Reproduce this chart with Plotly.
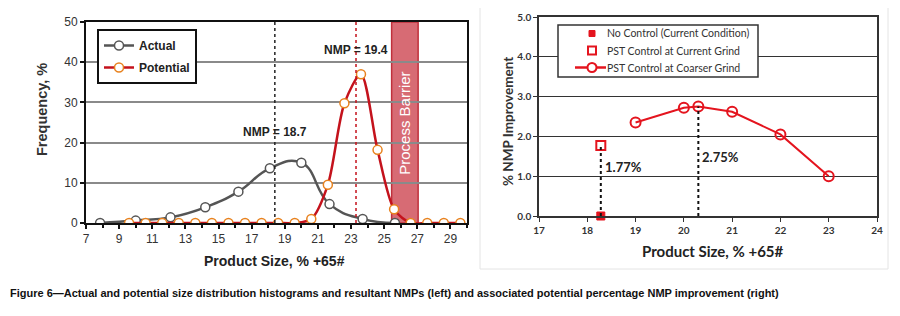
import plotly.graph_objects as go

# ---- Left chart data ----
actual_x = [7.85, 10.0, 12.1, 14.2, 16.2, 18.1, 20.0, 21.7, 23.7, 25.65]
actual_y = [0.0, 0.6, 1.4, 3.9, 7.8, 13.6, 15.0, 4.7, 1.0, 0.0]

potential_x = [9.6, 10.6, 11.6, 12.6, 13.6, 14.6, 15.6, 16.6, 17.6, 18.6, 19.6,
               20.6, 21.6, 22.6, 23.6, 24.6, 25.6, 26.6, 27.6, 28.6, 29.6]
potential_y = [0, 0, 0, 0, 0, 0, 0, 0, 0, 0, 0,
               1.0, 9.5, 29.8, 37.0, 18.2, 3.4, 0, 0, 0, 0]

nmp_actual_x = 18.4
nmp_potential_x = 23.3
barrier_x = [25.45, 27.05]
left_xticks = list(range(7, 30, 2))

# ---- Right chart data ----
no_control_x = [18.28]
no_control_y = [0.0]
current_grind_x = [18.28]
current_grind_y = [1.77]
coarser_x = [19.0, 20.0, 20.3, 21.0, 22.0, 23.0]
coarser_y = [2.35, 2.72, 2.75, 2.62, 2.05, 1.0]
right_legend_labels = ["No Control (Current Condition)",
                       "PST Control at Current Grind",
                       "PST Control at Coarser Grind"]

W, H = 900, 316
OFF = 8  # default page body margin of the html page

def px(x):
    return (x - OFF) / W

def py(y):
    return (H - (y - OFF)) / H

RED = "#C4121C"
ORANGE = "#E8821E"
GRAY = "#555555"
BRIGHT_RED = "#E4141E"
ARIAL = "Liberation Sans, Arial, sans-serif"
CAL = "Lato, Carlito, Calibri, sans-serif"

fig = go.Figure()

fig.add_trace(go.Scatter(
    x=actual_x, y=actual_y, name="Actual", mode="lines+markers",
    line=dict(color=GRAY, width=2.5, shape="spline", smoothing=1.3),
    marker=dict(symbol="circle", size=9, color="white", line=dict(color=GRAY, width=1.5)),
    xaxis="x", yaxis="y", legend="legend", legendgroup="a"))

fig.add_trace(go.Scatter(
    x=potential_x, y=potential_y, name="Potential", mode="lines+markers",
    line=dict(color=RED, width=2.5, shape="spline", smoothing=0.8),
    marker=dict(symbol="circle", size=9, color="white", line=dict(color=ORANGE, width=1.5)),
    xaxis="x", yaxis="y", legend="legend", legendgroup="p"))

fig.add_trace(go.Scatter(
    x=no_control_x, y=no_control_y, name=right_legend_labels[0], mode="markers",
    marker=dict(symbol="square", size=8, color=BRIGHT_RED, line=dict(color=BRIGHT_RED, width=1)),
    xaxis="x2", yaxis="y2", showlegend=False, cliponaxis=False))

fig.add_trace(go.Scatter(
    x=current_grind_x, y=current_grind_y, name=right_legend_labels[1], mode="markers",
    marker=dict(symbol="square", size=9, color="white", line=dict(color=BRIGHT_RED, width=2)),
    xaxis="x2", yaxis="y2", showlegend=False))

fig.add_trace(go.Scatter(
    x=coarser_x, y=coarser_y, name=right_legend_labels[2], mode="lines+markers",
    line=dict(color=BRIGHT_RED, width=2),
    marker=dict(symbol="circle-open", size=10, color=BRIGHT_RED, line=dict(color=BRIGHT_RED, width=2)),
    xaxis="x2", yaxis="y2", showlegend=False))

shapes = [
    dict(type="rect", xref="x", yref="y", x0=barrier_x[0], x1=barrier_x[1], y0=0, y1=50,
         fillcolor="rgba(200,50,62,0.72)", line=dict(color="#C0303C", width=1.5), layer="below"),
    dict(type="line", xref="x", yref="y", x0=nmp_actual_x, x1=nmp_actual_x, y0=0, y1=50,
         line=dict(color="#222222", width=1.5, dash="dot")),
    dict(type="line", xref="x", yref="y", x0=nmp_potential_x, x1=nmp_potential_x, y0=0, y1=50,
         line=dict(color=RED, width=1.5, dash="dot")),
    dict(type="line", xref="x2", yref="y2", x0=current_grind_x[0], x1=current_grind_x[0],
         y0=0, y1=current_grind_y[0], line=dict(color="#111111", width=2, dash="dot")),
    dict(type="line", xref="x2", yref="y2", x0=coarser_x[2], x1=coarser_x[2],
         y0=0, y1=coarser_y[2], line=dict(color="#111111", width=2, dash="dot")),
    # right panel card border
    dict(type="rect", xref="paper", yref="paper", x0=px(480), x1=px(888), y0=py(269), y1=1.2,
         line=dict(color="#E4E4E4", width=1), fillcolor="rgba(0,0,0,0)", layer="below"),
    # right legend box (custom, compact rows)
    dict(type="rect", xref="paper", yref="paper", x0=px(558), x1=px(758), y0=py(77), y1=py(25),
         line=dict(color="#333333", width=1.5), fillcolor="white", layer="above"),
    dict(type="rect", xref="paper", yref="paper", x0=px(589), x1=px(595), y0=py(36.5), y1=py(30.5),
         line=dict(color=BRIGHT_RED, width=1), fillcolor=BRIGHT_RED, layer="above"),
    dict(type="rect", xref="paper", yref="paper", x0=px(588), x1=px(596), y0=py(54.5), y1=py(46.5),
         line=dict(color=BRIGHT_RED, width=2), fillcolor="white", layer="above"),
    dict(type="line", xref="paper", yref="paper", x0=px(575), x1=px(606), y0=py(67.5), y1=py(67.5),
         line=dict(color=BRIGHT_RED, width=2.5), layer="above"),
    dict(type="circle", xref="paper", yref="paper", x0=px(587.5), x1=px(596.5), y0=py(72), y1=py(63),
         line=dict(color=BRIGHT_RED, width=2), fillcolor="white", layer="above"),
]

def ann(**kw):
    kw.setdefault("showarrow", False)
    kw.setdefault("xanchor", "center")
    kw.setdefault("yanchor", "middle")
    return kw

annotations = [
    ann(x=nmp_actual_x, y=22.6, xref="x", yref="y", text="NMP = 18.7",
        font=dict(family=ARIAL, size=12, color="#222", weight="bold")),
    ann(x=nmp_potential_x, y=43, xref="x", yref="y", text="NMP = 19.4",
        font=dict(family=ARIAL, size=12, color="#222", weight="bold")),
    ann(x=sum(barrier_x) / 2, y=24.9, xref="x", yref="y", text="Process Barrier",
        textangle=-90, font=dict(family=ARIAL, size=15, color="white")),
    ann(x=current_grind_x[0], y=1.22, xref="x2", yref="y2", text="1.77%",
        xanchor="left", xshift=2, font=dict(family=CAL, size=13, color="#222", weight="bold")),
    ann(x=coarser_x[2], y=1.47, xref="x2", yref="y2", text="2.75%",
        xanchor="left", xshift=2, font=dict(family=CAL, size=13, color="#222", weight="bold")),
    ann(x=px(42), y=py(110), xref="paper", yref="paper", text="Frequency, %",
        textangle=-90, font=dict(family=ARIAL, size=14.5, color="#333", weight="bold")),
    ann(x=px(274), y=py(261), xref="paper", yref="paper", text="Product Size, % +65#",
        font=dict(family=ARIAL, size=14, color="#222", weight="bold")),
    ann(x=px(508), y=py(122), xref="paper", yref="paper", text="% NMP Improvement",
        textangle=-90, font=dict(family=CAL, size=13.5, color="#333", weight="bold")),
    ann(x=px(713), y=py(251), xref="paper", yref="paper", text="Product Size, % +65#",
        font=dict(family=CAL, size=15, color="#222", weight="bold")),
    ann(x=px(8), y=py(293), xref="paper", yref="paper", xanchor="left",
        text="Figure 6\u2014Actual and potential size distribution histograms and resultant NMPs (left) and associated potential percentage NMP improvement (right)",
        font=dict(family=ARIAL, size=11, color="#111", weight="bold")),
]
for label, yy in zip(right_legend_labels, [33.5, 50.5, 67.5]):
    annotations.append(ann(x=px(605), y=py(yy), xref="paper", yref="paper", xanchor="left",
                           text=label, font=dict(family=CAL, size=10.5, color="#333")))

fig.update_layout(
    width=W, height=H, margin=dict(l=0, r=0, t=0, b=0, autoexpand=False),
    paper_bgcolor="white", plot_bgcolor="white",
    showlegend=True,
    xaxis=dict(domain=[px(86), px(467)], range=[7, 30], tickvals=left_xticks, automargin=False,
               showline=True, mirror=True, linecolor="#111", linewidth=2,
               ticks="outside", ticklen=4, tickcolor="#111", tickwidth=1.5,
               minor=dict(dtick=1, ticks="outside", ticklen=3, tickcolor="#111"),
               showgrid=False, zeroline=False,
               tickfont=dict(family=ARIAL, size=12, color="#333")),
    yaxis=dict(domain=[py(223), py(22)], range=[0, 50], dtick=10, automargin=False,
               showline=True, mirror=True, linecolor="#111", linewidth=2,
               ticks="outside", ticklen=4, tickcolor="#111", tickwidth=1.5,
               showgrid=True, gridcolor="#8a8a8a", gridwidth=1.5, zeroline=False,
               tickfont=dict(family=ARIAL, size=12, color="#333")),
    xaxis2=dict(domain=[px(539), px(877)], range=[17, 24], dtick=1, anchor="y2", automargin=False,
                showline=True, mirror=True, linecolor="#333", linewidth=1.5,
                ticks="outside", ticklen=4, tickcolor="#333",
                showgrid=False, zeroline=False,
                tickfont=dict(family=CAL, size=10, color="#333", weight="bold")),
    yaxis2=dict(domain=[py(216), py(17)], range=[0, 5], dtick=1, tickformat=".1f", anchor="x2",
                automargin=False,
                showline=True, mirror=True, linecolor="#333", linewidth=1.5,
                ticks="outside", ticklen=4, tickcolor="#333",
                showgrid=True, gridcolor="#333333", gridwidth=1.3, zeroline=False,
                tickfont=dict(family=CAL, size=10, color="#333", weight="bold")),
    legend=dict(x=px(97), y=py(29), xanchor="left", yanchor="top",
                bordercolor="#111", borderwidth=2, bgcolor="white",
                font=dict(family=ARIAL, size=12, color="#222", weight="bold"),
                itemwidth=30, tracegroupgap=3, traceorder="grouped"),
    shapes=shapes, annotations=annotations,
)

fig.write_html("out.html")
